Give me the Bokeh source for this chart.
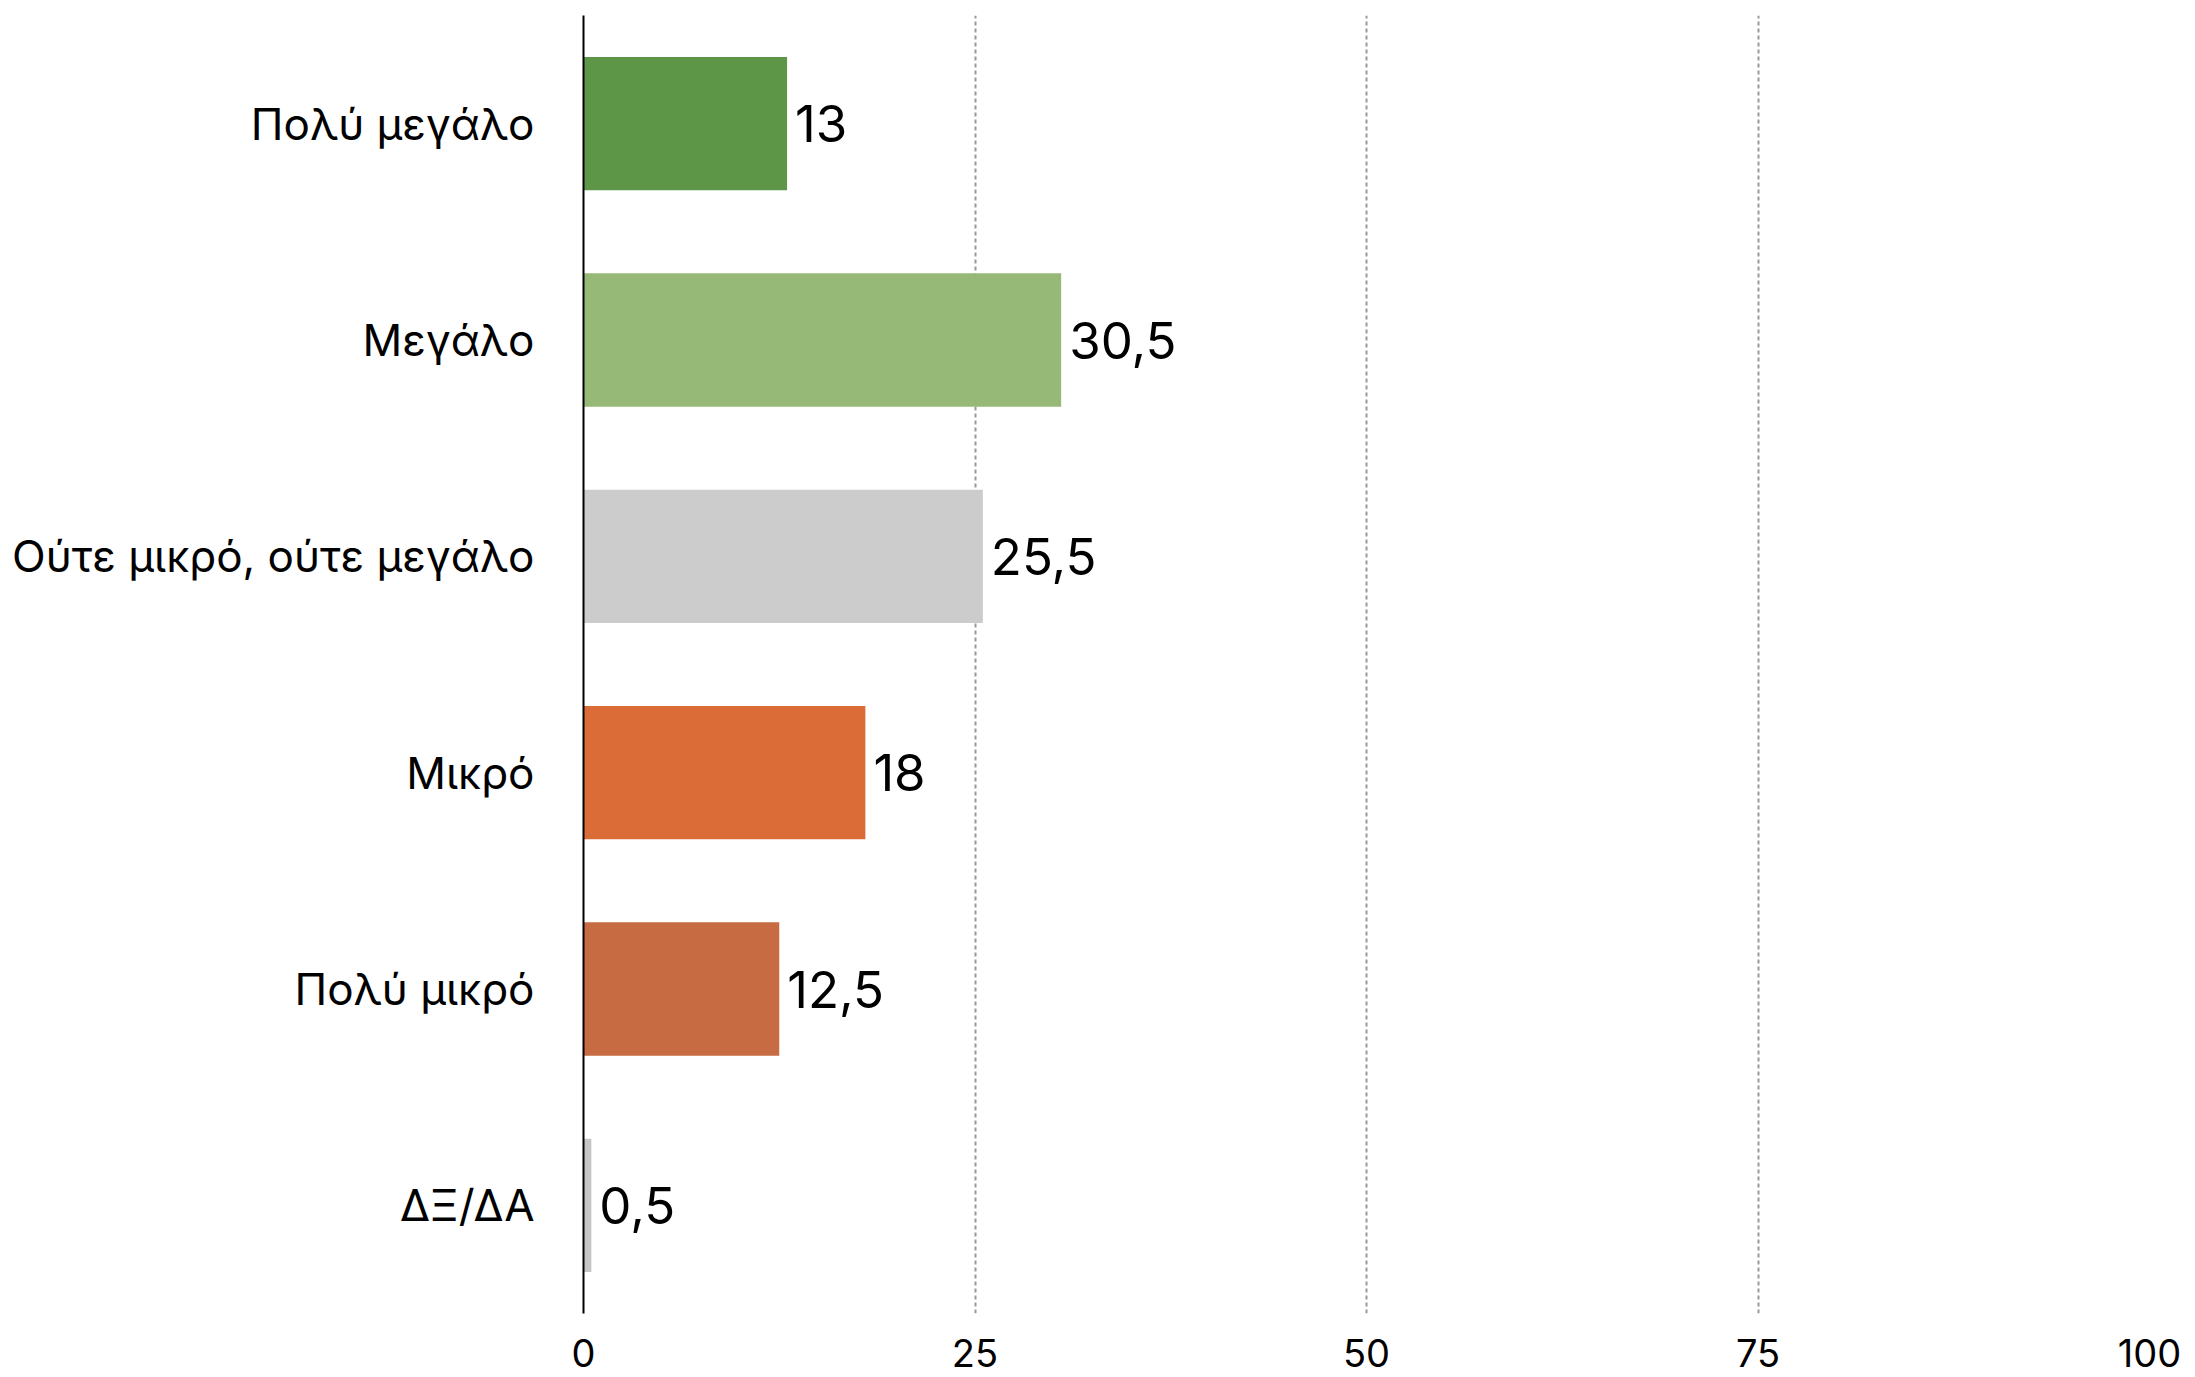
from bokeh.plotting import figure
from bokeh.models import ColumnDataSource, FixedTicker, Range1d, FactorRange
from bokeh.core.properties import value
from bokeh.embed import file_html
from bokeh.resources import INLINE

categories = ["Πολύ μεγάλο", "Μεγάλο", "Ούτε μικρό, ούτε μεγάλο", "Μικρό", "Πολύ μικρό", "ΔΞ/ΔΑ"]
values = [13, 30.5, 25.5, 18, 12.5, 0.5]
colors = ["#5E9648", "#96B978", "#CCCCCC", "#DC6C37", "#C76B43", "#C3C6C3"]
x_ticks = [0, 25, 50, 75, 100]

FONT = "Inter"

labels = [("%g" % v).replace(".", ",") for v in values]
src = ColumnDataSource(dict(cat=categories, val=values, col=colors, lab=labels))

p = figure(width=2195, height=1377, output_backend="svg", toolbar_location=None,
           y_range=FactorRange(*reversed(categories), range_padding=0),
           x_range=Range1d(0, 100))
p.min_border_left = 583
p.min_border_right = 46
p.min_border_top = 15
p.min_border_bottom = 64
p.outline_line_color = None

p.hbar(y="cat", right="val", left=0, height=0.616, fill_color="col", line_color=None, source=src)
p.text(x="val", y="cat", text="lab", source=src, x_offset=8, text_align="left",
       text_baseline="middle", text_font=value(FONT), text_font_size="51px", text_color="#000000")

p.xaxis.ticker = FixedTicker(ticks=x_ticks)
p.xaxis.axis_line_color = None
p.xaxis.major_tick_line_color = None
p.xaxis.minor_tick_line_color = None
p.xaxis.major_label_text_font = FONT
p.xaxis.major_label_text_font_size = "38px"
p.xaxis.major_label_text_color = "#000000"
p.xaxis.major_label_standoff = 19

p.yaxis.axis_line_color = "#000000"
p.yaxis.axis_line_width = 2
p.yaxis.major_tick_line_color = None
p.yaxis.minor_tick_line_color = None
p.yaxis.major_label_text_font = FONT
p.yaxis.major_label_text_font_size = "44px"
p.yaxis.major_label_text_color = "#000000"
p.yaxis.major_label_standoff = 43

p.ygrid.grid_line_color = None
p.xgrid.grid_line_color = "#999999"
p.xgrid.grid_line_width = 2
p.xgrid.grid_line_dash = "4 3"

open("out.html", "w").write(file_html(p, INLINE))
